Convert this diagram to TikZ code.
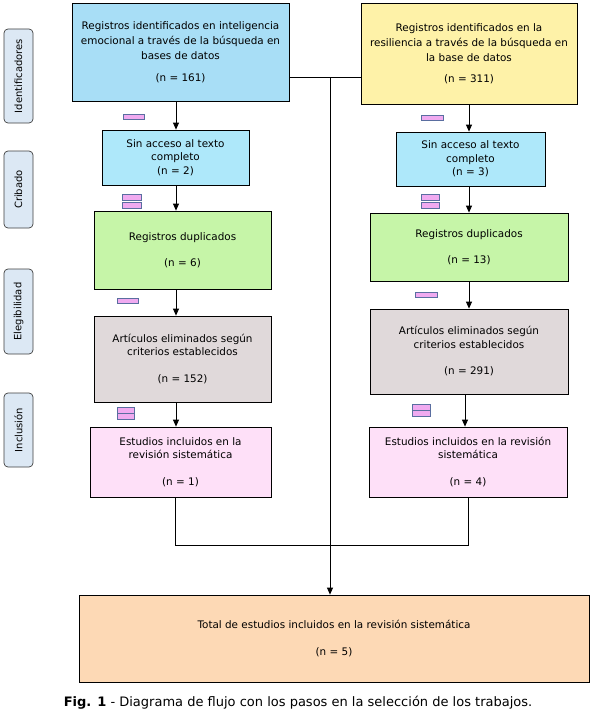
\documentclass[tikz,border=0pt]{standalone}
\usepackage{fontspec}
\setmainfont{DejaVu Sans}
\usetikzlibrary{positioning, shapes, arrows.meta, fit}

\definecolor{idblue}{RGB}{168,222,246}
\definecolor{sinblue}{RGB}{174,232,250}
\definecolor{idyellow}{RGB}{254,242,168}
\definecolor{dupgreen}{RGB}{198,245,168}
\definecolor{artgray}{RGB}{224,217,218}
\definecolor{estpink}{RGB}{254,224,248}
\definecolor{totorange}{RGB}{253,217,181}
\definecolor{sidefill}{RGB}{220,232,244}
\definecolor{markfill}{RGB}{240,170,240}
\definecolor{markline}{RGB}{90,110,160}

\begin{document}
\begin{tikzpicture}[x=1pt, y=-1pt]
      % Define styles for nodes
      \tikzset{
        box/.style={rectangle, draw, line width=0.8pt, inner sep=2pt, align=center,
          font=\fontsize{10.4}{13.5}\selectfont},
        sidelabel/.style={rectangle, rounded corners=4pt, draw=black!75, fill=sidefill,
          line width=0.7pt, minimum height=29pt, rotate=90, font=\fontsize{10}{12}\selectfont},
        marker/.style={rectangle, draw=markline, fill=markfill, line width=0.6pt,
          minimum height=5.5pt, inner sep=0pt},
        arrowline/.style={line width=0.8pt, -{Triangle[length=7pt, width=6pt]}},
        joinline/.style={line width=0.8pt}
      }
      \useasboundingbox[fill=white] (0,0) rectangle (592,717);

      % Stage labels on the left
      \node[sidelabel, minimum width=94pt] (labid) at (18.5,76) {Identificadores};
      \node[sidelabel, minimum width=77pt] (labcrib) at (18.5,189.5) {Cribado};
      \node[sidelabel, minimum width=85pt] (labeleg) at (18.5,311.5) {Elegibilidad};
      \node[sidelabel, minimum width=74pt] (labinc) at (18.5,430) {Inclusión};

      % Left column (inteligencia emocional)
      \node[box, fill=idblue, minimum width=217pt, minimum height=98pt] (idemo) at (180.5,52)
        {Registros identificados en inteligencia\\[1.5pt]emocional a través de la búsqueda en\\[1.5pt]bases de datos\\[8pt](n = 161)};
      \node[box, fill=sinblue, minimum width=147pt, minimum height=55pt] (sinemo) at (175.5,157.5)
        {Sin acceso al texto\\completo\\(n = 2)};
      \node[box, fill=dupgreen, minimum width=177pt, minimum height=78pt] (dupemo) at (182.5,250)
        {Registros duplicados\\[13pt](n = 6)};
      \node[box, fill=artgray, minimum width=177pt, minimum height=86pt] (artemo) at (182.5,359)
        {Artículos eliminados según\\criterios establecidos\\[13pt](n = 152)};
      \node[box, fill=estpink, minimum width=181pt, minimum height=70pt] (estemo) at (180.5,462)
        {Estudios incluidos en la\\revisión sistemática\\[13pt](n = 1)};

      % Right column (resiliencia)
      \node[box, fill=idyellow, minimum width=216pt, minimum height=101pt] (idres) at (469,53.5)
        {Registros identificados en la\\[1.5pt]resiliencia a través de la búsqueda en\\[1.5pt]la base de datos\\[8pt](n = 311)};
      \node[box, fill=sinblue, minimum width=149pt, minimum height=54pt] (sinres) at (470.5,159)
        {Sin acceso al texto\\completo\\(n = 3)};
      \node[box, fill=dupgreen, minimum width=198pt, minimum height=68pt] (dupres) at (469,247)
        {Registros duplicados\\[13pt](n = 13)};
      \node[box, fill=artgray, minimum width=198pt, minimum height=85pt] (artres) at (469,351.5)
        {Artículos eliminados según\\criterios establecidos\\[13pt](n = 291)};
      \node[box, fill=estpink, minimum width=198pt, minimum height=70pt] (estres) at (468,462)
        {Estudios incluidos en la revisión\\sistemática\\[13pt](n = 4)};

      % Total
      \node[box, fill=totorange, minimum width=510pt, minimum height=87pt] (total) at (334,638.5)
        {Total de estudios incluidos en la revisión sistemática\\[13pt](n = 5)};

      % Small markers beside the arrows
      \node[marker, minimum width=21pt] (mk1) at (133.5,117) {};
      \node[marker, minimum width=19pt] (mk2) at (131.5,197.5) {};
      \node[marker, minimum width=19pt] (mk3) at (131.5,205.5) {};
      \node[marker, minimum width=21pt] (mk4) at (127.5,301) {};
      \node[marker, minimum width=17pt] (mk5) at (125.5,410.5) {};
      \node[marker, minimum width=17pt] (mk6) at (125.5,416.5) {};
      \node[marker, minimum width=22pt] (mk7) at (432,118) {};
      \node[marker, minimum width=18pt] (mk8) at (430,197.5) {};
      \node[marker, minimum width=18pt] (mk9) at (430,205.5) {};
      \node[marker, minimum width=22pt] (mk10) at (426,295) {};
      \node[marker, minimum width=18pt] (mk11) at (421,407.5) {};
      \node[marker, minimum width=18pt] (mk12) at (421,413.5) {};

      % Column and joining points
      \coordinate (colL) at (176,0);
      \coordinate (colR) at (469,0);
      \coordinate (join) at (330,77);
      \coordinate (merge) at (0,545);

      % Draw the arrows down each column
      \draw[arrowline] (idemo.south -| colL) -- (sinemo.north -| colL);
      \draw[arrowline] (sinemo.south -| colL) -- (dupemo.north -| colL);
      \draw[arrowline] (dupemo.south -| colL) -- (artemo.north -| colL);
      \draw[arrowline] (artemo.south -| colL) -- (estemo.north -| colL);
      \draw[arrowline] (idres.south -| colR) -- (sinres.north -| colR);
      \draw[arrowline] (sinres.south -| colR) -- (dupres.north -| colR);
      \draw[arrowline] (dupres.south -| colR) -- (artres.north -| colR);
      \draw[arrowline] (artres.south -| 465,0) -- (estres.north -| 465,0);

      % Joining lines to the total
      \draw[joinline] (idemo.east |- join) -- (idres.west |- join);
      \draw[arrowline] (join) -- (join |- total.north);
      \draw[joinline] (estemo.south -| 175,0) |- (merge -| 468,0) -- (estres.south -| 468,0);

      % Caption
      \node[font=\fontsize{13}{15}\selectfont] (caption) at (298,703)
        {\textbf{Fig. 1} - Diagrama de flujo con los pasos en la selección de los trabajos.};
    \end{tikzpicture}
\end{document}
